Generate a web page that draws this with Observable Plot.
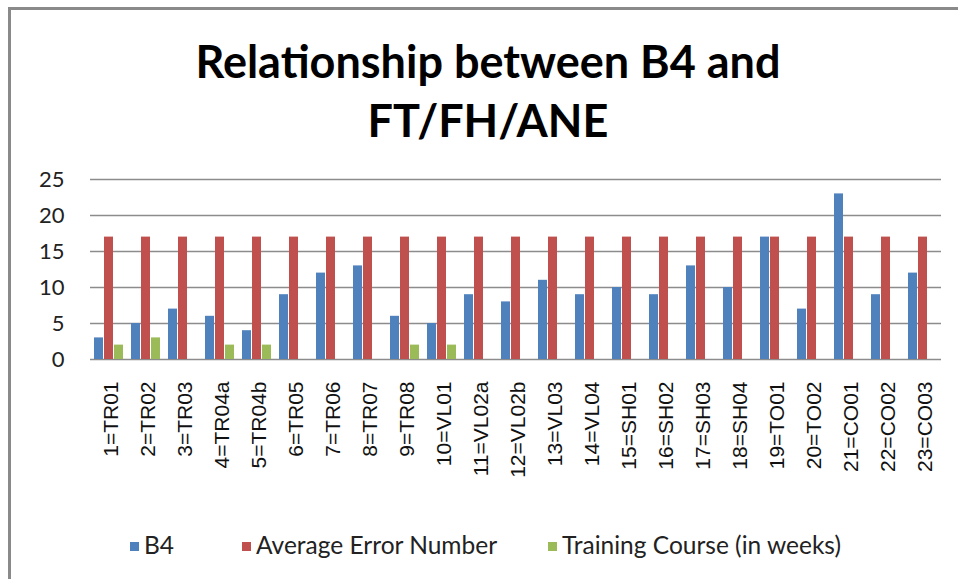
<!DOCTYPE html>
<html>
<head>
<meta charset="utf-8">
<script src="https://cdn.jsdelivr.net/npm/d3@7"></script>
<script src="https://cdn.jsdelivr.net/npm/@observablehq/plot@0.6"></script>
<style>
  html, body { margin: 0; padding: 0; background: #fff; }
  #wrap { position: relative; width: 958px; height: 579px; overflow: hidden; background: #fff; }
  #frame { position: absolute; left: 8px; top: 7px; width: 960px; height: 600px; border-top: 3px solid #8a8a8a; border-left: 3px solid #8a8a8a; box-sizing: border-box; pointer-events: none; }
  #title { position: absolute; left: 0; top: 32px; width: 976px; text-align: center; font-family: Lato, sans-serif; font-weight: bold; font-size: 45px; line-height: 59px; color: #000; }
  #chart { position: absolute; left: 0; top: 165px; }
  #legend { position: absolute; left: 0; top: 531px; width: 958px; height: 30px; font-family: Lato, sans-serif; font-size: 24.5px; color: #222; white-space: nowrap; }
  .item { position: absolute; top: 0; line-height: 28px; }
  .sw { display: inline-block; width: 9px; height: 9px; margin-right: 5px; vertical-align: 3px; }
</style>
</head>
<body>
<div id="wrap">
  <div id="title">Relationship between B4 and<br>FT/FH/ANE</div>
  <div id="chart"></div>
  <div id="legend"></div>
  <div id="frame"></div>
</div>
<script>
const categories = ["1=TR01","2=TR02","3=TR03","4=TR04a","5=TR04b","6=TR05","7=TR06","8=TR07","9=TR08","10=VL01","11=VL02a","12=VL02b","13=VL03","14=VL04","15=SH01","16=SH02","17=SH03","18=SH04","19=TO01","20=TO02","21=CO01","22=CO02","23=CO03"];
const seriesNames = ["B4", "Average Error Number", "Training Course (in weeks)"];
const seriesColors = ["#4F81BD", "#C0504D", "#9BBB59"];
const b4 = [3,5,7,6,4,9,12,13,6,5,9,8,11,9,10,9,13,10,17,7,23,9,12];
const avgError = [17,17,17,17,17,17,17,17,17,17,17,17,17,17,17,17,17,17,17,17,17,17,17];
const training = [2,3,null,2,2,null,null,null,2,2,null,null,null,null,null,null,null,null,null,null,null,null,null];
const yTicks = [0,5,10,15,20,25];

const rows = [];
categories.forEach((c, i) => {
  [b4, avgError, training].forEach((arr, s) => {
    if (arr[i] != null) rows.push({category: c, series: seriesNames[s], value: arr[i]});
  });
});

const plot = Plot.plot({
  width: 958,
  height: 355,
  marginLeft: 90,
  marginRight: 17,
  marginTop: 14,
  marginBottom: 161,
  style: {fontFamily: "Lato, sans-serif", background: "transparent", overflow: "visible"},
  fx: {domain: categories, padding: 0, label: null, axis: null},
  x: {domain: seriesNames, paddingInner: 0.14, paddingOuter: 0.33, axis: null},
  y: {domain: [0, 25], ticks: yTicks, label: null},
  color: {domain: seriesNames, range: seriesColors},
  marks: [
    Plot.ruleY(yTicks, {stroke: "#8c8c8c", strokeWidth: 1.5, strokeOpacity: 1}),
    Plot.barY(rows, {fx: "category", x: "series", y: "value", fill: "series"}),
    Plot.axisY({ticks: yTicks, tickSize: 0, tickPadding: 26, fontSize: 22, fill: "#222", label: null}),
    Plot.axisFx({anchor: "bottom", tickRotate: -90, tickSize: 0, tickPadding: 22, dx: 2, fontSize: 21, fontFamily: "Liberation Sans, Arial, sans-serif", fill: "#111", label: null})
  ]
});
document.getElementById("chart").appendChild(plot);

const legendPos = [130, 242, 548];
const legend = document.getElementById("legend");
seriesNames.forEach((name, i) => {
  const d = document.createElement("div");
  d.className = "item";
  d.style.left = legendPos[i] + "px";
  const sw = document.createElement("span");
  sw.className = "sw";
  sw.style.background = seriesColors[i];
  d.appendChild(sw);
  d.appendChild(document.createTextNode(name));
  legend.appendChild(d);
});
</script>
</body>
</html>
